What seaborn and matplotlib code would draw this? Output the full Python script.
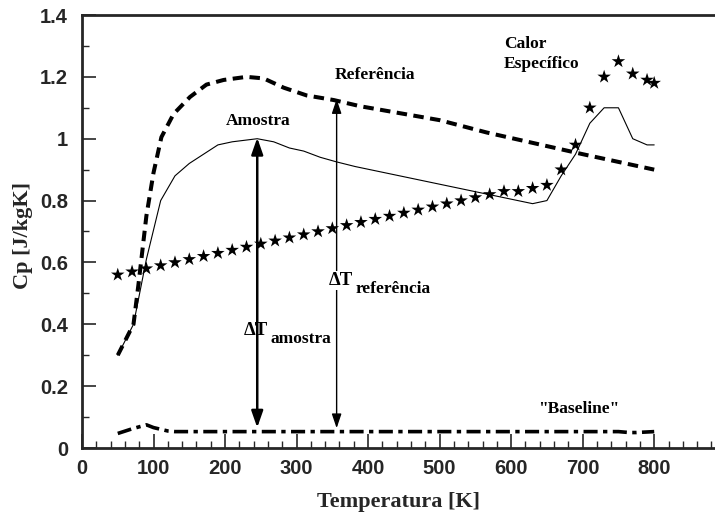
import matplotlib
matplotlib.use("Agg")
import matplotlib.pyplot as plt
import seaborn as sns
import pandas as pd
from matplotlib.ticker import MultipleLocator, FuncFormatter

# ---------------- data ----------------
temp_star = [50, 70, 90, 110, 130, 150, 170, 190, 210, 230, 250, 270, 290, 310,
             330, 350, 370, 390, 410, 430, 450, 470, 490, 510, 530, 550, 570,
             590, 610, 630, 650, 670, 690, 710, 730, 750, 770, 790, 800]
cp_star = [0.56, 0.57, 0.58, 0.59, 0.60, 0.61, 0.62, 0.63, 0.64, 0.65, 0.66,
           0.67, 0.68, 0.69, 0.70, 0.71, 0.72, 0.73, 0.74, 0.75, 0.76, 0.77,
           0.78, 0.79, 0.80, 0.81, 0.82, 0.83, 0.83, 0.84, 0.85, 0.90, 0.98,
           1.10, 1.20, 1.25, 1.21, 1.19, 1.18]

temp_amostra = [50, 72, 90, 110, 130, 150, 170, 190, 210, 245, 268, 290, 310,
                333, 356, 382, 630, 650, 670, 690, 710, 730, 750, 770, 790, 800]
cp_amostra = [0.30, 0.40, 0.61, 0.80, 0.88, 0.92, 0.95, 0.98, 0.99, 1.00, 0.99,
              0.97, 0.96, 0.94, 0.925, 0.91, 0.79, 0.80, 0.88, 0.95, 1.05, 1.10,
              1.10, 1.00, 0.98, 0.98]

temp_ref = [50, 72, 79, 90, 100, 111, 128, 151, 174, 198, 230, 254, 282, 314,
            352, 389, 500, 566, 700, 800]
cp_ref = [0.30, 0.40, 0.53, 0.75, 0.89, 1.005, 1.08, 1.135, 1.175, 1.19, 1.20,
          1.195, 1.165, 1.14, 1.125, 1.105, 1.06, 1.02, 0.95, 0.90]

temp_base = [50, 70, 90, 100, 120, 130, 750, 765, 775, 800]
cp_base = [0.047, 0.062, 0.075, 0.066, 0.055, 0.053, 0.053, 0.050, 0.050, 0.053]

x_ticks = [0, 100, 200, 300, 400, 500, 600, 700, 800]
y_ticks = [0, 0.2, 0.4, 0.6, 0.8, 1.0, 1.2, 1.4]

# ---------------- style ----------------
sns.set_style("ticks")
plt.rcParams['font.family'] = ['Liberation Serif', 'DejaVu Serif']
serif = ['Liberation Serif', 'DejaVu Serif']
sans = ['Liberation Sans', 'DejaVu Sans']

fig = plt.figure(figsize=(7.15, 5.2), dpi=100)
ax = fig.add_axes([82 / 715, 1 - 448 / 520, (715 - 82) / 715, (448 - 15) / 520])

df_star = pd.DataFrame({'T': temp_star, 'Cp': cp_star})
df_a = pd.DataFrame({'T': temp_amostra, 'Cp': cp_amostra})
df_r = pd.DataFrame({'T': temp_ref, 'Cp': cp_ref})
df_b = pd.DataFrame({'T': temp_base, 'Cp': cp_base})

sns.lineplot(data=df_r, x='T', y='Cp', ax=ax, color='black', lw=2.9, sort=False)
ax.lines[-1].set_dashes((2.6, 1.6))
sns.lineplot(data=df_a, x='T', y='Cp', ax=ax, color='black', lw=0.8, sort=False)
sns.lineplot(data=df_b, x='T', y='Cp', ax=ax, color='black', lw=2.6, sort=False)
ax.lines[-1].set_dashes((3.9, 1.5, 1.2, 1.5))
sns.scatterplot(data=df_star, x='T', y='Cp', ax=ax, marker='*', s=105,
                color='black', edgecolor='none', zorder=5)

ax.set_xlim(0, 885)
ax.set_ylim(0, 1.4)
ax.set_xticks(x_ticks)
ax.xaxis.set_minor_locator(MultipleLocator(20))
ax.set_yticks(y_ticks)
ax.yaxis.set_minor_locator(MultipleLocator(0.1))
ax.yaxis.set_major_formatter(FuncFormatter(lambda v, p: '%g' % v))

ax.tick_params(which='major', direction='in', length=10, width=1.2,
               labelsize=14.5, pad=8)
ax.tick_params(which='minor', direction='in', length=5, width=1.0)
ax.tick_params(axis='y', which='major', pad=10)
ax.tick_params(top=False, right=False, which='both')
for lab in ax.get_xticklabels() + ax.get_yticklabels():
    lab.set_fontfamily(sans)
    lab.set_fontweight('bold')

for s in ['left', 'top', 'bottom']:
    ax.spines[s].set_linewidth(2)
ax.spines['right'].set_visible(False)

ax.set_xlabel('Temperatura [K]', fontsize=16, fontweight='bold', family=serif)
ax.set_ylabel('Cp [J/kgK]', fontsize=16, fontweight='bold', family=serif)
ax.xaxis.set_label_coords(0.5, -0.102)
ax.yaxis.set_label_coords(-0.077, 0.49)

# arrows
ax.annotate('', xy=(245, 1.003), xytext=(245, 0.066),
            arrowprops=dict(arrowstyle='<|-|>,head_length=1.0,head_width=0.35',
                            color='black', lw=1.8, shrinkA=0, shrinkB=0))
ax.annotate('', xy=(356, 1.128), xytext=(356, 0.064),
            arrowprops=dict(arrowstyle='<|-|>,head_length=0.86,head_width=0.29',
                            color='black', lw=1.0, shrinkA=0, shrinkB=0))

tk = dict(fontweight='bold', family=serif, color='black')
ax.text(246, 1.044, 'Amostra', ha='center', va='baseline', fontsize=12.5, **tk)
ax.text(410, 1.193, 'Referência', ha='center', va='baseline', fontsize=12.5, **tk)
ax.text(590, 1.294, 'Calor', ha='left', va='baseline', fontsize=12.5, **tk)
ax.text(590, 1.229, 'Específico', ha='left', va='baseline', fontsize=12.5, **tk)
ax.text(695, 0.113, '"Baseline"', ha='center', va='baseline', fontsize=12.5, **tk)

ax.text(260, 0.365, 'ΔT', ha='right', va='baseline', fontsize=13.5, **tk)
ax.text(264, 0.340, 'amostra', ha='left', va='baseline', fontsize=12.5, **tk)
ax.text(379, 0.527, 'ΔT', ha='right', va='baseline', fontsize=13.5,
        bbox=dict(facecolor='white', edgecolor='none', pad=0.5), zorder=6, **tk)
ax.text(382, 0.502, 'referência', ha='left', va='baseline', fontsize=12.5, **tk)

fig.savefig('out.png', dpi=100)
